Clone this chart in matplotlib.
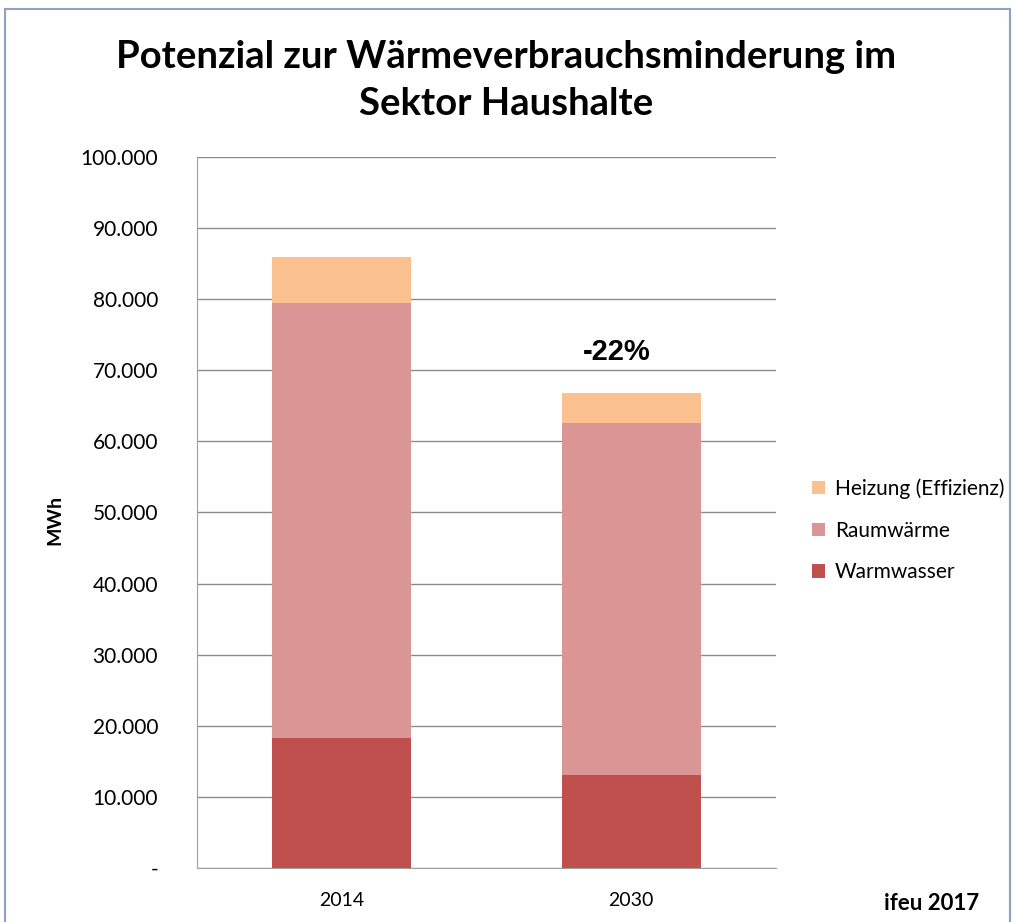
import matplotlib.pyplot as plt
from matplotlib.patches import Rectangle
from matplotlib.ticker import FuncFormatter

# ---- DATA ---- #
years = ["2014", "2030"]
warmwasser = [18300, 13100]
raumwaerme = [61200, 49500]
heizung = [6400, 4200]
reduction_label = "-22%"

col_heiz = "#FAC090"
col_raum = "#D99694"
col_warm = "#C0504D"

plt.rcParams["font.family"] = ["Lato", "DejaVu Sans"]

fig = plt.figure(figsize=(10.13, 9.22), dpi=100)
ax = fig.add_axes([0.1945, 0.0586, 0.5715, 0.7711])

x = range(len(years))
w = 0.48
bottom2 = [a + b for a, b in zip(warmwasser, raumwaerme)]
b1 = ax.bar(x, warmwasser, w, color=col_warm, label="Warmwasser", zorder=3)
b2 = ax.bar(x, raumwaerme, w, bottom=warmwasser, color=col_raum, label="Raumwärme", zorder=3)
b3 = ax.bar(x, heizung, w, bottom=bottom2, color=col_heiz, label="Heizung (Effizienz)", zorder=3)

ax.set_xlim(-0.5, 1.5)
ax.set_ylim(0, 100000)
ax.set_yticks(range(0, 100001, 10000))
ax.yaxis.set_major_formatter(FuncFormatter(
    lambda v, p: "-" if v == 0 else f"{int(v):,}".replace(",", ".")))
ax.set_xticks(list(x))
ax.set_xticklabels(years)
ax.tick_params(axis="y", length=0, pad=28, labelsize=15)
ax.tick_params(axis="x", length=0, pad=17, labelsize=14)
ax.grid(axis="y", color="#8c8c8c", linewidth=1, zorder=0)
for s in ["top", "right"]:
    ax.spines[s].set_visible(False)
for s in ["left", "bottom"]:
    ax.spines[s].set_color("#a0a0a0")
ax.set_ylabel("MWh", fontsize=14, fontweight="bold")
ax.yaxis.set_label_coords(-0.23, 0.49)

# reduction label above 2030 bar
ax.text(0.95, 72600, reduction_label, ha="center", va="center", fontsize=21,
        fontweight="bold", family="Liberation Sans")

handles = [b3, b2, b1]
ax.legend(handles, [h.get_label() for h in handles], loc="center left",
          bbox_to_anchor=(1.03, 0.475), frameon=False, fontsize=15,
          handlelength=0.6, handleheight=0.6, handletextpad=0.5,
          labelspacing=1.05)

fig.text(0.5, 0.913, "Potenzial zur Wärmeverbrauchsminderung im\nSektor Haushalte",
         ha="center", va="center", fontsize=27.5, fontweight="bold", linespacing=1.45)
fig.text(0.967, 0.02, "ifeu 2017", ha="right", va="center", fontsize=16,
         fontweight="bold")

# outer frame
fig.patches.append(Rectangle((0.005, -0.01), 0.992, 1.0, transform=fig.transFigure,
                             fill=False, edgecolor="#8ea2c2", linewidth=1.5))

fig.savefig("out.png", dpi=100)
